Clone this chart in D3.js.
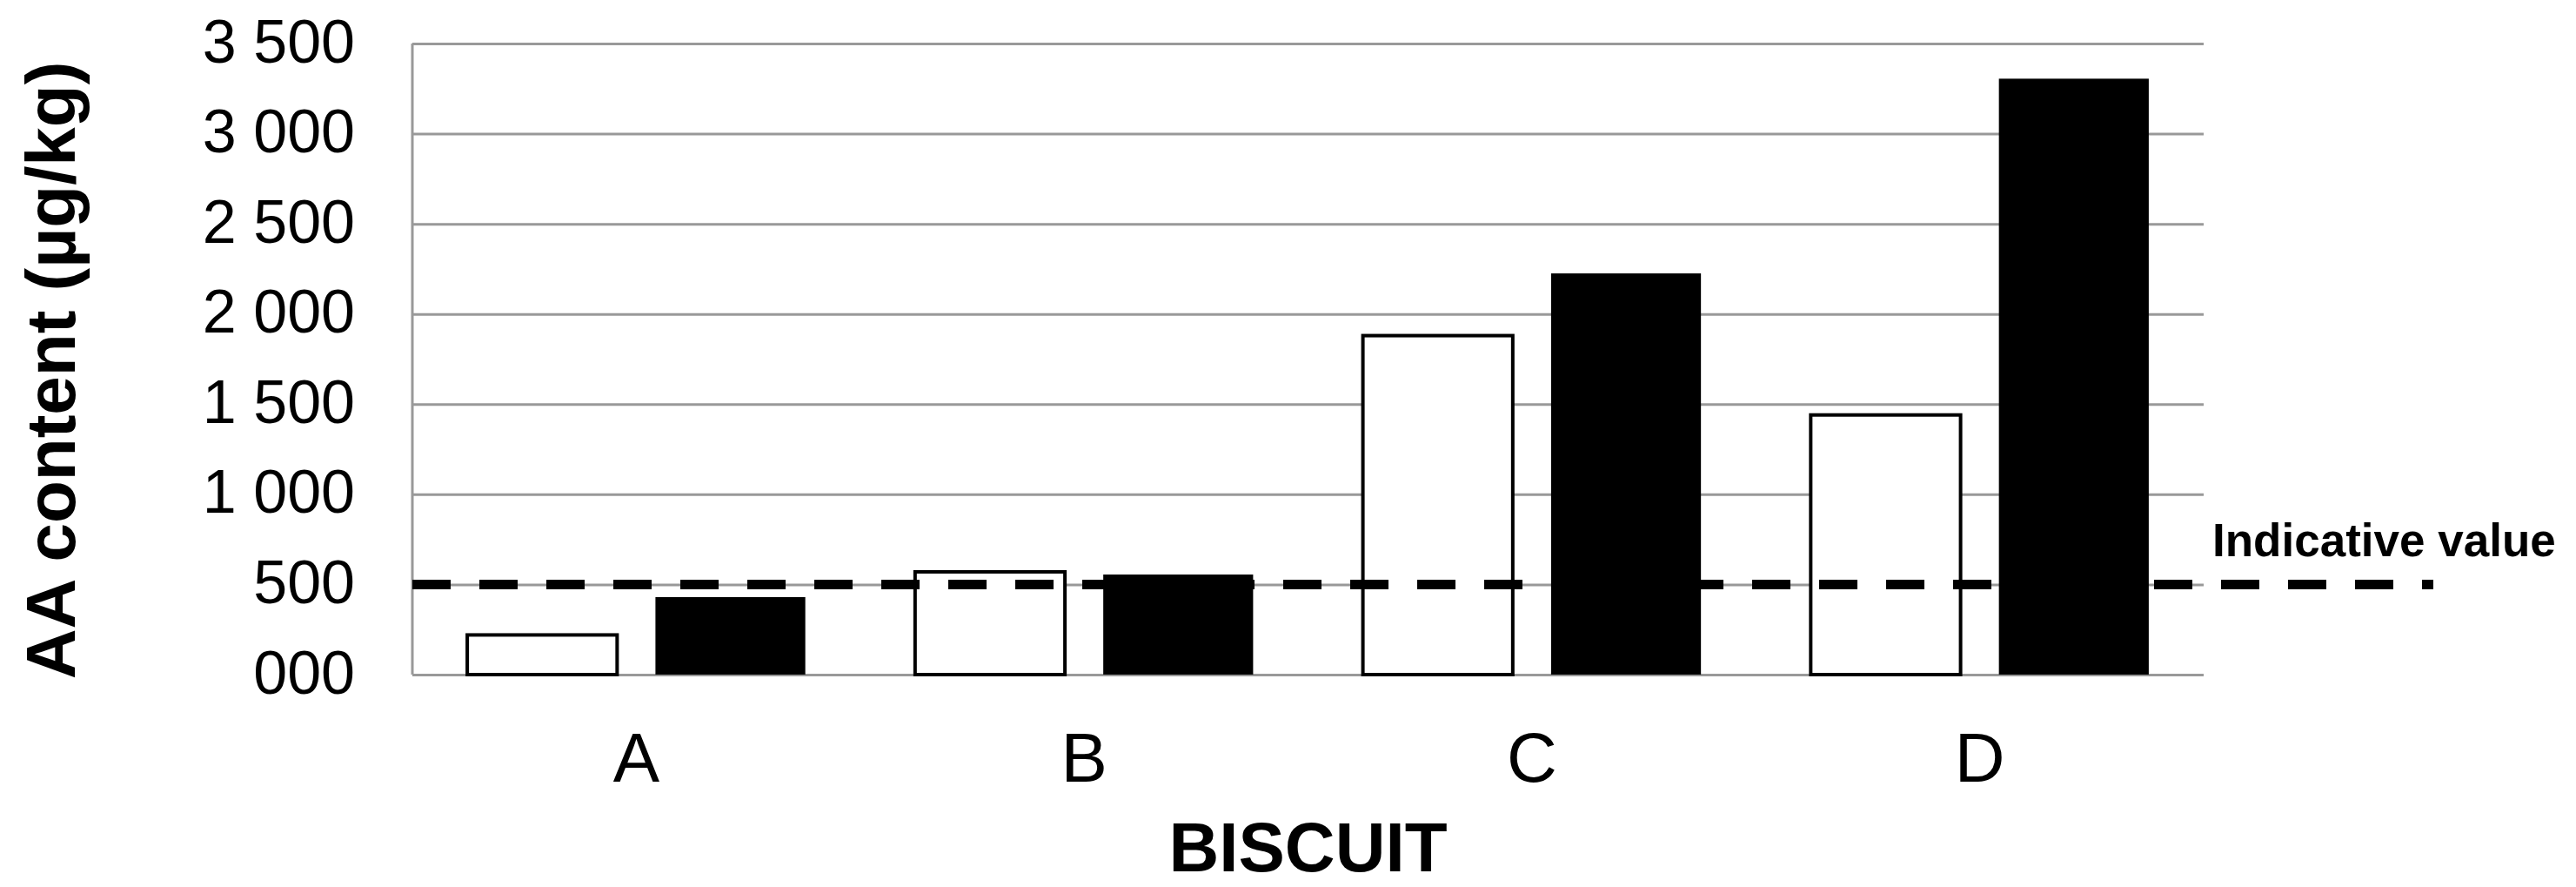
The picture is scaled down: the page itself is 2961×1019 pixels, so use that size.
<!DOCTYPE html>
<html>
<head>
<meta charset="utf-8">
<script src="https://cdn.jsdelivr.net/npm/d3@7"></script>
<style>
  html, body { margin: 0; padding: 0; background: #fff; }
  svg { display: block; font-family: "Liberation Sans", Arial, sans-serif; }
</style>
</head>
<body>
<svg id="chart"></svg>
<script>
// values
const categories = ["A", "B", "C", "D"];
const seriesNames = ["white", "black"];
const whiteValues = [220, 570, 1880, 1440];
const blackValues = [430, 555, 2225, 3305];
const yTicks = [0, 500, 1000, 1500, 2000, 2500, 3000, 3500];
const yTickLabels = ["000", "500", "1 000", "1 500", "2 000", "2 500", "3 000", "3 500"];
const indicativeValue = 500;

const width = 2961;
const height = 1019;
const plotLeft = 474, plotRight = 2533, plotTop = 50, plotBottom = 775;

const svg = d3.select("#chart").attr("width", width).attr("height", height);

const y = d3.scaleLinear().domain([0, 3500]).range([plotBottom, plotTop]);
const x0 = d3.scaleBand().domain(categories).range([plotLeft, plotRight]);
const x1 = d3.scaleBand().domain(seriesNames).range([0, x0.bandwidth()])
  .paddingInner(0.2037).paddingOuter(0.2917);

// gridlines
const grid = svg.append("g")
  .attr("transform", `translate(${plotLeft},0)`)
  .call(d3.axisRight(y).tickValues(yTicks).tickSize(plotRight - plotLeft).tickFormat(""));
grid.select(".domain").remove();
grid.selectAll("line").attr("stroke", "#999").attr("stroke-width", 3);

// left axis line
svg.append("line")
  .attr("x1", plotLeft).attr("x2", plotLeft)
  .attr("y1", y(3500)).attr("y2", y(0))
  .attr("stroke", "#999").attr("stroke-width", 3);

// y tick labels
const yAxis = svg.append("g")
  .attr("transform", `translate(${plotLeft},0)`)
  .call(d3.axisLeft(y).tickValues(yTicks).tickSize(0).tickPadding(66)
    .tickFormat((d, i) => yTickLabels[i]));
yAxis.select(".domain").remove();
yAxis.selectAll("text")
  .attr("font-size", 70)
  .attr("font-family", "Liberation Sans, Arial, sans-serif")
  .attr("fill", "#000")
  .attr("dy", 21);

// bars
const rows = categories.map((c, i) => ({ cat: c, white: whiteValues[i], black: blackValues[i] }));

const groups = svg.append("g").selectAll("g")
  .data(rows)
  .join("g")
  .attr("transform", d => `translate(${x0(d.cat)},0)`);

groups.append("rect")
  .attr("x", x1("white"))
  .attr("width", x1.bandwidth())
  .attr("y", d => y(d.white))
  .attr("height", d => y(0) - y(d.white))
  .attr("fill", "#fff")
  .attr("stroke", "#000")
  .attr("stroke-width", 4);

groups.append("rect")
  .attr("x", x1("black"))
  .attr("width", x1.bandwidth())
  .attr("y", d => y(d.black))
  .attr("height", d => y(0) - y(d.black))
  .attr("fill", "#000");

// indicative value line
svg.append("line")
  .attr("x1", plotLeft).attr("x2", 2797)
  .attr("y1", y(indicativeValue)).attr("y2", y(indicativeValue))
  .attr("stroke", "#000")
  .attr("stroke-width", 11)
  .attr("stroke-dasharray", "44 33");

svg.append("text")
  .attr("x", 2543).attr("y", 639)
  .attr("font-size", 53)
  .attr("font-weight", "bold")
  .text("Indicative value");

// x labels
const xAxis = svg.append("g")
  .attr("transform", `translate(0,${plotBottom})`)
  .call(d3.axisBottom(x0).tickSize(0));
xAxis.select(".domain").remove();
xAxis.selectAll("text")
  .attr("font-size", 80)
  .attr("font-family", "Liberation Sans, Arial, sans-serif")
  .attr("fill", "#000")
  .attr("y", 123)
  .attr("dy", 0);

// axis titles
svg.append("text")
  .attr("x", (plotLeft + plotRight) / 2).attr("y", 1001)
  .attr("text-anchor", "middle")
  .attr("font-size", 80)
  .attr("font-weight", "bold")
  .text("BISCUIT");

svg.append("text")
  .attr("transform", `translate(86,${(63 + 788) / 2}) rotate(-90)`)
  .attr("text-anchor", "middle")
  .attr("font-size", 80)
  .attr("font-weight", "bold")
  .text("AA content (µg/kg)");
</script>
</body>
</html>
